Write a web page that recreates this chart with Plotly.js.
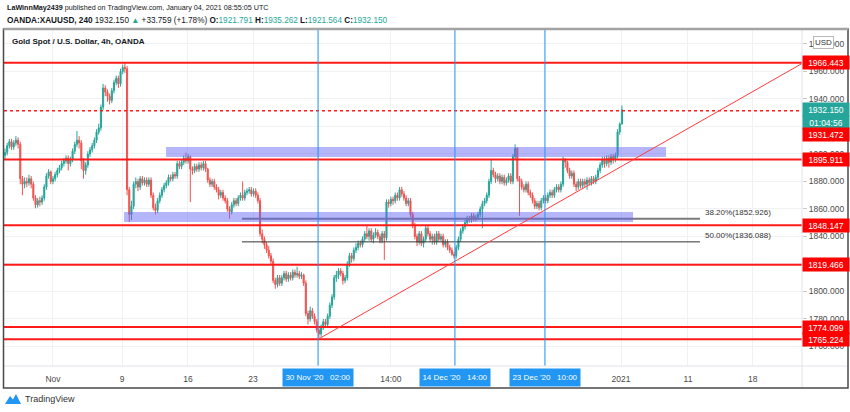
<!DOCTYPE html>
<html><head><meta charset="utf-8">
<script src="https://cdn.plot.ly/plotly-3.0.1.min.js"></script>
<style>html,body{margin:0;padding:0;background:#fff;overflow:hidden}#chart{width:850px;height:412px}</style>
</head><body><div id="chart"></div>
<script>
// ---- OHLC data (4h bars, XAUUSD) ----
const opens = [
1899,1901,1906,1909,1905,1908,1910,1907,1882,1878,
1880,1879,1882,1878,1868,1863,1866,1865,1868,1876,
1884,1887,1880,1882,1885,1888,1890,1893,1895,1897,
1893,1896,1902,1907,1910,1908,1895,1888,1892,1900,
1903,1906,1910,1916,1919,1934,1948,1945,1942,1939,
1946,1952,1955,1951,1960,1963,1962,1874,1856,1862,
1878,1880,1876,1882,1879,1881,1878,1881,1870,1861,
1859,1866,1870,1874,1877,1879,1883,1882,1885,1884,
1893,1891,1894,1897,1895,1898,1889,1888,1891,1889,
1892,1890,1893,1889,1881,1878,1880,1876,1874,1870,
1872,1868,1866,1860,1858,1863,1866,1864,1868,1870,
1868,1872,1873,1874,1871,1873,1870,1866,1842,1838,
1834,1830,1826,1822,1808,1805,1810,1806,1810,1813,
1809,1812,1810,1814,1812,1813,1811,1812,1806,1784,
1780,1786,1782,1778,1772,1769,1774,1778,1776,1782,
1790,1796,1810,1812,1815,1813,1808,1810,1820,1826,
1824,1830,1832,1835,1834,1838,1842,1840,1844,1838,
1841,1843,1840,1837,1842,1839,1865,1864,1867,1866,
1870,1868,1874,1871,1868,1864,1866,1856,1848,1840,
1836,1842,1835,1838,1846,1842,1838,1840,1836,1842,
1838,1840,1834,1836,1832,1830,1827,1826,1832,1838,
1844,1847,1850,1853,1852,1855,1853,1854,1856,1860,
1864,1866,1870,1880,1888,1885,1882,1884,1880,1883,
1879,1881,1884,1880,1898,1904,1882,1880,1876,1874,
1878,1872,1870,1866,1862,1864,1861,1866,1868,1866,
1870,1872,1870,1874,1876,1874,1878,1896,1894,1888,
1884,1886,1878,1876,1880,1877,1880,1878,1881,1879,
1882,1880,1883,1888,1892,1896,1893,1897,1894,1898,
1896,1899,1916,1921.791];
const highs = [
1904,1908,1911,1911,1910,1913,1912,1909,1884,1883,
1883,1885,1884,1880,1870,1868,1869,1870,1878,1886,
1889,1888,1884,1887,1890,1892,1895,1897,1899,1899,
1898,1904,1909,1916.7,1913,1910,1897,1894,1902,1905,
1908,1912,1918,1922,1936,1951,1950,1947,1944,1948,
1954,1957,1957,1962,1965,1966.44,1964,1876,1866,1880,
1883,1882,1884,1884,1883,1883,1883,1883,1872,1864,
1868,1872,1876,1879,1881,1885,1885,1887,1887,1895,
1895,1896,1899,1901,1900,1899,1891,1893,1893,1894,
1894,1895,1895,1890,1883,1882,1882,1878,1876,1874,
1874,1870,1868,1862,1865,1868,1868,1870,1872,1880,
1874,1875,1876,1876,1875,1875,1872,1868,1845,1840,
1836,1833,1828,1824,1810,1812,1812,1812,1815,1815,
1814,1814,1816,1816,1818,1815,1814,1813,1808,1786,
1789,1788,1784,1780,1774,1776,1780,1780,1784,1792,
1798,1812,1815,1817,1817,1815,1812,1822,1828,1828,
1832,1835,1837,1837,1840,1844,1848,1846,1846,1843,
1846,1845,1842,1844,1844,1867,1867,1869,1869,1872,
1872,1876,1876,1873,1870,1868,1868,1858,1850,1842,
1844,1844,1840,1848,1848,1844,1842,1842,1844,1844,
1842,1842,1838,1838,1834,1832,1829,1834,1840,1846,
1849,1852,1855,1855,1857,1857,1856,1858,1862,1866,
1868,1872,1882,1896,1890,1887,1886,1886,1885,1885,
1883,1886,1886,1900,1907,1905,1884,1882,1878,1880,
1880,1874,1872,1868,1866,1866,1868,1870,1870,1872,
1874,1874,1876,1878,1878,1880,1898,1897,1895,1890,
1888,1888,1880,1882,1882,1882,1882,1883,1883,1884,
1884,1885,1890,1894,1898,1898,1899,1899,1900,1900,
1901,1918,1923,1935.262];
const lows = [
1896,1899,1904,1903,1903,1906,1904,1878,1870,1875,
1876,1877,1875,1866,1860.5,1861,1862,1863,1866,1874,
1882,1878,1878,1880,1883,1886,1888,1891,1893,1888,
1891,1894,1900,1905,1904,1889,1882,1885,1890,1898,
1901,1904,1908,1914,1917,1932,1942,1938,1936,1937,
1944,1950,1948,1949,1958,1959,1870,1850.5,1852,1860,
1875,1873,1874,1877,1877,1876,1876,1868,1859,1856,
1857,1864,1868,1872,1875,1877,1880,1880,1882,1882,
1889,1889,1892,1893,1893,1865,1885,1886,1887,1887,
1888,1888,1887,1879,1876,1876,1874,1872,1867,1868,
1866,1864,1858,1853,1856,1861,1862,1862,1866,1866,
1866,1870,1871,1869,1869,1868,1864,1840,1835,1831,
1828,1824,1819,1806,1802,1803,1804,1804,1808,1807,
1807,1808,1808,1810,1810,1809,1809,1804,1782,1776,
1778,1780,1776,1770,1765.224,1767,1772,1774,1774,1780,
1788,1794,1807,1809,1811,1805,1806,1808,1818,1821,
1822,1828,1830,1832,1832,1836,1838,1837,1836,1835,
1839,1838,1835,1835,1823,1837,1861,1862,1863,1864,
1866,1866,1869,1866,1862,1862,1854,1846,1838,1833,
1834,1833,1832,1836,1840,1836,1834,1834,1834,1836,
1836,1832,1832,1830,1828,1826,1824,1824,1830,1836,
1842,1845,1848,1850,1850,1851,1851,1852,1854,1846,
1862,1864,1868,1878,1883,1879,1880,1878,1878,1877,
1877,1879,1878,1878,1896,1880,1855,1874,1872,1872,
1870,1868,1864,1860,1860,1859,1859,1864,1864,1864,
1868,1868,1868,1872,1872,1872,1876,1890,1886,1882,
1882,1876,1873,1874,1875,1875,1876,1874,1877,1877,
1878,1878,1881,1886,1890,1890,1891,1890,1892,1893,
1894,1897,1914,1921.564];
const closes = [
1901,1906,1909,1905,1908,1910,1907,1882,1878,1880,
1879,1882,1878,1868,1863,1866,1865,1868,1876,1884,
1887,1880,1882,1885,1888,1890,1893,1895,1897,1893,
1896,1902,1907,1910,1908,1895,1888,1892,1900,1903,
1906,1910,1916,1919,1934,1948,1945,1942,1939,1946,
1952,1955,1951,1960,1963,1962,1874,1856,1862,1878,
1880,1876,1882,1879,1881,1878,1881,1870,1861,1859,
1866,1870,1874,1877,1879,1883,1882,1885,1884,1893,
1891,1894,1897,1895,1898,1889,1888,1891,1889,1892,
1890,1893,1889,1881,1878,1880,1876,1874,1870,1872,
1868,1866,1860,1858,1863,1866,1864,1868,1870,1868,
1872,1873,1874,1871,1873,1870,1866,1842,1838,1834,
1830,1826,1822,1808,1805,1810,1806,1810,1813,1809,
1812,1810,1814,1812,1813,1811,1812,1806,1784,1780,
1786,1782,1778,1772,1769,1774,1778,1776,1782,1790,
1796,1810,1812,1815,1813,1808,1810,1820,1826,1824,
1830,1832,1835,1834,1838,1842,1840,1844,1838,1841,
1843,1840,1837,1842,1839,1865,1864,1867,1866,1870,
1868,1874,1871,1868,1864,1866,1856,1848,1840,1836,
1842,1835,1838,1846,1842,1838,1840,1836,1842,1838,
1840,1834,1836,1832,1830,1827,1826,1832,1838,1844,
1847,1850,1853,1852,1855,1853,1854,1856,1860,1864,
1866,1870,1880,1888,1885,1882,1884,1880,1883,1879,
1881,1884,1880,1898,1904,1882,1880,1876,1874,1878,
1872,1870,1866,1862,1864,1861,1866,1868,1866,1870,
1872,1870,1874,1876,1874,1878,1896,1894,1888,1884,
1886,1878,1876,1880,1877,1880,1878,1881,1879,1882,
1880,1883,1888,1892,1896,1893,1897,1894,1898,1896,
1899,1916,1921.8,1932.15];

// ---- axis labels ----
const timeTickBars   = [22, 53.7, 83.9, 113.8, 143.6, 177, 206.4, 247.7, 282.6, 313.3, 343];
const timeTickLabels = ['Nov', '9', '16', '23', '', '14:00', '', '', '2021', '11', '18'];
const markedBars   = [143.6, 206.4, 247.7];
const markedLabels = ["30 Nov '20\u00a0\u00a0\u00a002:00", "14 Dec '20\u00a0\u00a0\u00a014:00", "23 Dec '20\u00a0\u00a0\u00a010:00"];
const priceTicks = [1760, 1780, 1800, 1820, 1840, 1860, 1880, 1900, 1920, 1940, 1960, 1980];

// ---- drawings ----
const levels      = [1966.443, 1931.472, 1895.911, 1848.147, 1819.466, 1774.099, 1765.224];
const levelLabels = ['1966.443', '1931.472', '1895.911', '1848.147', '1819.466', '1774.099', '1765.224'];
const fibLevels = [1852.926, 1836.088];
const fibLabels = ['38.20%(1852.926)', '50.00%(1836.088)'];
const fibBars = [108.7, 318.8];
const zoneLows  = [1897.8, 1850.5];
const zoneHighs = [1905.1, 1857.8];
const zoneStartBars = [73.9, 54.6];
const zoneEndBars   = [303.2, 288.1];
const trendBars   = [143.6, 365.6];
const trendPrices = [1765.224, 1965.8];
const lastPrice = 1932.150;
const countdown = '01:04:56';

// ---- layout helpers (pixel -> paper) ----
const PL = 4, PR = 802, PT = 29, PB = 366;
const px = x => (x - PL) / (PR - PL);
const py = y => (PB - y) / (PB - PT);
const FONT = '"Liberation Sans", Arial, sans-serif';
const UP = '#26a69a', DOWN = '#ef5350';

const barIndex = closes.map((_, i) => i);

const trace = {
  type: 'candlestick', x: barIndex, open: opens, high: highs, low: lows, close: closes,
  increasing: {line: {color: UP, width: 1}, fillcolor: UP},
  decreasing: {line: {color: DOWN, width: 1}, fillcolor: DOWN},
  whiskerwidth: 0, hoverinfo: 'none', showlegend: false
};

const shapes = [];
fibLevels.forEach((v, k) => shapes.push({type: 'line', xref: 'x', yref: 'y', x0: fibBars[0], x1: fibBars[1], y0: v, y1: v,
  line: {color: k === 0 ? '#7a7a7a' : '#333333', width: k === 0 ? 2 : 1}, layer: 'above'}));
zoneLows.forEach((v, k) => shapes.push({type: 'rect', xref: 'x', yref: 'y', x0: zoneStartBars[k], x1: zoneEndBars[k], y0: v, y1: zoneHighs[k],
  fillcolor: 'rgba(100,100,245,0.48)', line: {width: 0}, layer: 'above'}));
levels.forEach((v, k) => shapes.push({type: 'line', xref: 'paper', yref: 'y', x0: 0, x1: 1, y0: v, y1: v,
  line: {color: '#ff1a1a', width: k === 1 ? 1.5 : 2, dash: k === 1 ? 'dot' : 'solid'}, layer: 'above'}));
shapes.push({type: 'line', xref: 'x', yref: 'y', x0: trendBars[0], x1: trendBars[1], y0: trendPrices[0], y1: trendPrices[1],
  line: {color: '#ff3b3b', width: 1}, layer: 'above'});
markedBars.forEach(b => shapes.push({type: 'line', xref: 'x', yref: 'paper', x0: b, x1: b, y0: 0, y1: 1,
  line: {color: '#2196f3', width: 1}, layer: 'above'}));
shapes.push({type: 'line', xref: 'paper', yref: 'paper', x0: 1, x1: 1, y0: py(388), y1: 1, line: {color: '#e0e3eb', width: 1}});
shapes.push({type: 'line', xref: 'paper', yref: 'paper', x0: px(3), x1: px(848), y0: 0, y1: 0, line: {color: '#e0e3eb', width: 1}});
shapes.push({type: 'rect', xref: 'paper', yref: 'paper', x0: px(3.5), x1: px(848), y0: py(388), y1: py(29),
  line: {color: '#4a4a4a', width: 1.5}, fillcolor: 'rgba(0,0,0,0)'});
shapes.push({type: 'line', xref: 'paper', yref: 'paper', x0: px(3.5), x1: px(848), y0: py(29), y1: py(29),
  line: {color: '#a3a3a3', width: 2.5}});
shapes.push({type: 'path', xref: 'paper', yref: 'paper',
  path: `M ${px(5)},${py(404)} L ${px(10)},${py(396)} L ${px(13)},${py(399.5)} L ${px(16)},${py(394)} L ${px(21)},${py(404)} Z`,
  fillcolor: '#2196f3', line: {width: 0}});

const ann = [];
ann.push({xref: 'paper', yref: 'paper', x: px(5), y: py(7.5), xanchor: 'left', yanchor: 'middle', showarrow: false,
  text: '<b>LaWinnMay2439</b> published on TradingView.com, January 04, 2021 08:55:05 UTC',
  font: {family: FONT, size: 7.2, color: '#131722'}});
ann.push({xref: 'paper', yref: 'paper', x: px(5), y: py(20.5), xanchor: 'left', yanchor: 'middle', showarrow: false,
  text: `<b>OANDA:XAUUSD, 240</b> 1932.150 <span style="color:${UP}">▲</span> +33.759 (+1.78%) <b>O:</b><span style="color:${UP}">1921.791</span> <b>H:</b><span style="color:${UP}">1935.262</span> <b>L:</b><span style="color:${UP}">1921.564</span> <b>C:</b><span style="color:${UP}">1932.150</span>`,
  font: {family: FONT, size: 8.2, color: '#131722'}});
ann.push({xref: 'paper', yref: 'paper', x: px(10), y: py(41), xanchor: 'left', yanchor: 'middle', showarrow: false,
  text: '<b>Gold Spot / U.S. Dollar, 4h, OANDA</b>', font: {family: FONT, size: 8, color: '#131722'}});
ann.push({xref: 'paper', yref: 'paper', x: px(23), y: py(399), xanchor: 'left', yanchor: 'middle', showarrow: false,
  text: 'TradingView', font: {family: FONT, size: 9, color: '#333'}});
ann.push({xref: 'paper', yref: 'paper', x: px(823), y: py(42), xanchor: 'center', yanchor: 'middle', showarrow: false,
  text: 'USD', font: {family: FONT, size: 8, color: '#333'}, bgcolor: '#fff', bordercolor: '#b8b8b8', borderwidth: 1, borderpad: 1});
fibLevels.forEach((v, k) => ann.push({xref: 'x', yref: 'y', x: fibBars[1] + 1.5, y: v, xanchor: 'left', yanchor: 'bottom', showarrow: false,
  text: fibLabels[k], font: {family: FONT, size: 8, color: '#333'}}));
const badge = (text, y, color, shift) => ann.push({xref: 'paper', yref: 'y', x: px(802), y: y, xanchor: 'left', yanchor: 'middle', yshift: shift || 0,
  showarrow: false, text: text, font: {family: FONT, size: 8.5, color: '#fff'}, bgcolor: color, width: 44, height: 11, borderpad: 1, align: 'center'});
levels.forEach((v, k) => { if (k !== 1) badge(levelLabels[k], v, '#ff0000', 0); });
badge(lastPrice.toFixed(3), lastPrice, UP, 0);
badge(countdown, lastPrice, UP, -12.7);
badge(levelLabels[1], levels[1], '#ff0000', -23.6);
markedBars.forEach((b, k) => ann.push({xref: 'x', yref: 'paper', x: b, y: py(377.5), xanchor: 'center', yanchor: 'middle', showarrow: false,
  text: markedLabels[k], font: {family: FONT, size: 8, color: '#fff'}, bgcolor: '#2196f3', width: 68, height: 15, borderpad: 1}));

const layout = {
  width: 850, height: 412, margin: {l: PL, r: 850 - PR, t: PT, b: 412 - PB, pad: 0},
  paper_bgcolor: '#fff', plot_bgcolor: '#fff', showlegend: false, dragmode: false,
  xaxis: {type: 'linear', range: [-0.46, 365.6], rangeslider: {visible: false}, tickvals: timeTickBars, ticktext: timeTickLabels,
    showgrid: true, gridcolor: '#eff1f5', gridwidth: 1, zeroline: false, showline: false, ticks: 'outside', ticklen: 5, tickcolor: 'rgba(0,0,0,0)',
    tickfont: {family: FONT, size: 8.5, color: '#4a4a4a'}, fixedrange: true},
  yaxis: {side: 'right', range: [1745.8, 1990.9], tickvals: priceTicks, ticktext: priceTicks.map(v => v.toFixed(3)),
    showgrid: true, gridcolor: '#eff1f5', zeroline: false, ticks: 'outside', ticklen: 4, tickcolor: '#c8c8c8',
    tickfont: {family: FONT, size: 8.5, color: '#4a4a4a'}, fixedrange: true},
  shapes: shapes, annotations: ann
};
Plotly.newPlot('chart', [trace], layout, {displayModeBar: false, staticPlot: true});
</script></body></html>
